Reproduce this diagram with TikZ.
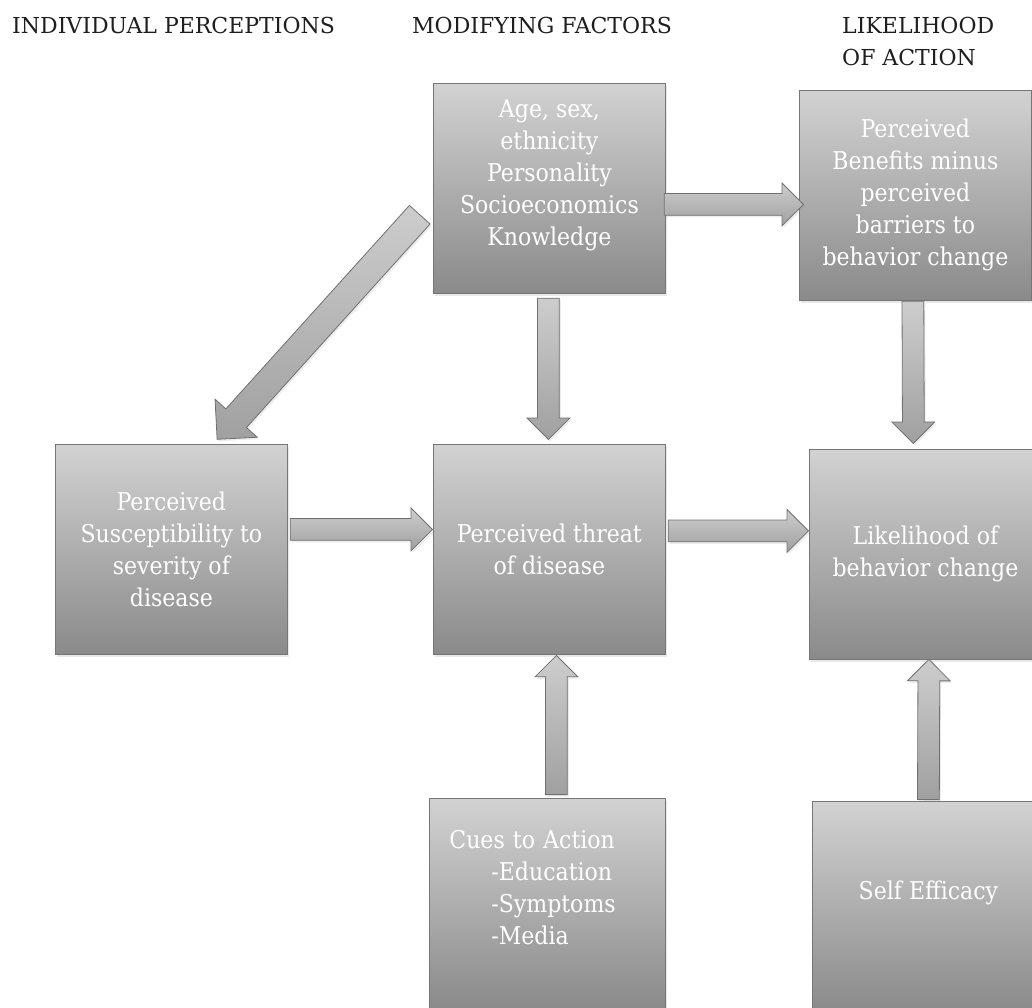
\documentclass[tikz,border=0pt]{standalone}
\usepackage{fontspec}
\setmainfont{DejaVu Serif Condensed}
\newfontfamily\hdrfont{DejaVu Serif}
\usetikzlibrary{calc,shapes.arrows,shadows}
\definecolor{boxtop}{RGB}{210,210,210}
\definecolor{boxbot}{RGB}{138,138,138}
\definecolor{boxline}{RGB}{118,118,118}
\definecolor{arrtop}{RGB}{205,205,205}
\definecolor{arrbot}{RGB}{160,160,160}
\definecolor{arrline}{RGB}{112,112,112}
\definecolor{headtext}{RGB}{30,30,30}
\tikzset{
  box/.style={draw=boxline, line width=0.8pt, top color=boxtop, bottom color=boxbot,
    minimum width=232pt, minimum height=210pt, inner sep=0pt, align=center, text=white,
    font=\fontsize{24.5}{32}\selectfont, anchor=north west,
    drop shadow={opacity=0.18, shadow xshift=2pt, shadow yshift=-3pt}},
  hdr/.style={text=headtext, font=\hdrfont\fontsize{22}{32}\selectfont, inner sep=0pt, align=left, anchor=base west},
  barrowsty/.style={single arrow, draw=arrline, line width=0.8pt, top color=arrtop, bottom color=arrbot,
    single arrow tip angle=90, single arrow head extend=10.5pt, inner xsep=0pt, inner ysep=10.5pt,
    drop shadow={opacity=0.15, shadow xshift=1.5pt, shadow yshift=-2pt}},
  bigarrow/.style={single arrow head extend=14.5pt, inner ysep=13.5pt}
}
\newcommand\barrow[3][]{%
  \path let \p1=#2, \p2=#3, \n1={atan2(\y2-\y1,\x2-\x1)}, \n2={veclen(\x2-\x1,\y2-\y1)} in
    node[barrowsty, #1, anchor=tail, rotate=\n1, minimum height=\n2] at (\p1) {};}
\begin{document}
\begin{tikzpicture}[x=1pt, y=-1pt]
\useasboundingbox (0,0) rectangle (1032,1007);
\clip (0,0) rectangle (1032,1007);
% headers
\node[hdr] (h1) at (12,33) {INDIVIDUAL PERCEPTIONS};
\node[hdr] (h2) at (412,33) {MODIFYING FACTORS};
\node[hdr] (h3) at (842,65.5) {LIKELIHOOD\\OF ACTION};
% boxes
\node[box] (A) at (433,83) {Age, sex,\\ethnicity\\Personality\\Socioeconomics\\Knowledge\\~};
\node[box] (B) at (799,90) {Perceived\\Benefits minus\\perceived\\barriers to\\behavior change};
\node[box] (C) at (55,444) {Perceived\\Susceptibility to\\severity of\\disease};
\node[box] (D) at (433,444) {Perceived threat\\of disease};
\node[box] (E) at (809,449) {Likelihood of\\behavior change};
\node[box, minimum width=236pt, text width=216pt, align=left] (F) at (429,798)
  {\hspace*{10pt}Cues to Action\\\hspace*{52pt}-Education\\\hspace*{52pt}-Symptoms\\\hspace*{52pt}-Media\\~};
\node[box] (G) at (812,801) {Self Efficacy\\~};
% block arrows
\barrow[name=a1]{($(A.east)+(-2,16)$)}{($(B.west)+(4,9)$)}
\barrow[name=a2]{($(A.south)+(-1,4)$)}{($(D.north)+(-1,-5)$)}
\barrow[name=a3, bigarrow]{($(A.west)+(-13,26)$)}{($(C.north)+(46,-5)$)}
\barrow[name=a4]{($(C.east)+(2,-20)$)}{($(D.west)+(-1,-20)$)}
\barrow[name=a5]{($(D.east)+(2,-18.5)$)}{($(E.west)+(-1,-23.5)$)}
\barrow[name=a6]{($(B.south)+(-2.5,0)$)}{($(E.north)+(-12,-6)$)}
\barrow[name=a7]{($(F.north)+(9,-3)$)}{($(D.south)+(7,1)$)}
\barrow[name=a8]{($(G.north)+(0,-1)$)}{($(E.south)+(3.5,0)$)}
\end{tikzpicture}
\end{document}
